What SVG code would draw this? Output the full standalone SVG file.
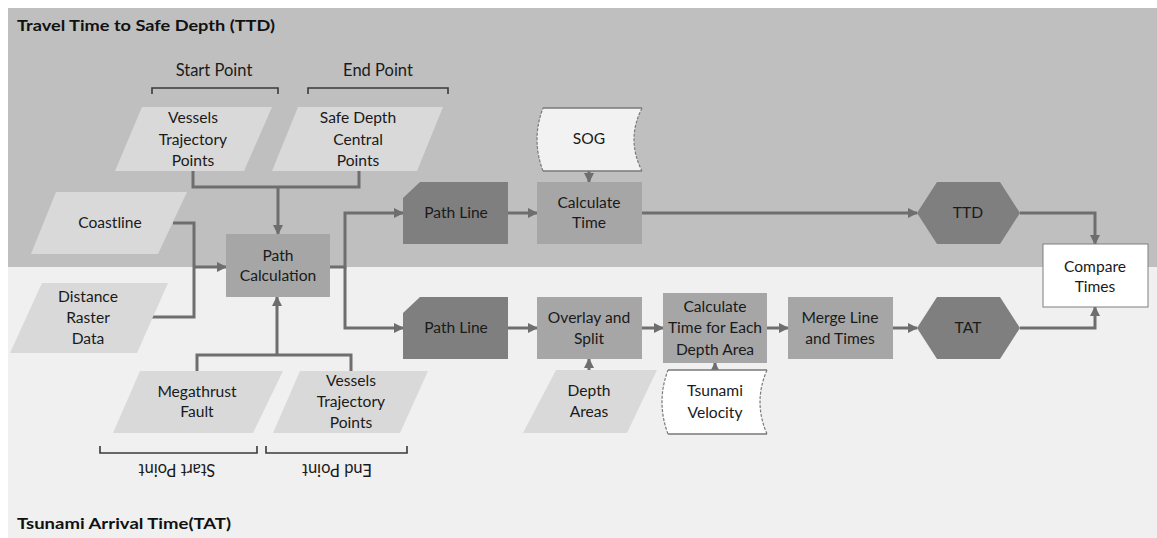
<svg xmlns="http://www.w3.org/2000/svg" width="1157" height="538" viewBox="0 0 1157 538">
  <defs>
    <style>
      .txt { font-family: Lato, "Liberation Sans", sans-serif; font-size: 15.6px; fill: #1a1a1a; text-anchor: middle; }
      .lbl { font-family: Lato, "Liberation Sans", sans-serif; font-size: 16.5px; fill: #1a1a1a; text-anchor: middle; }
      .title { font-family: Lato, "Liberation Sans", sans-serif; font-size: 16px; font-weight: bold; fill: #111; }
      .data { fill: #d9d9d9; }
      .proc { fill: #a6a6a6; }
      .dark { fill: #7f7f7f; }
      .conn { fill: none; stroke: #6e6e6e; stroke-width: 3; }
      .bracket { fill: none; stroke: #3a3a3a; stroke-width: 1.6; }
      .store-edge { fill: none; stroke: #7a7a7a; stroke-width: 1.4; }
      .store-side { fill: none; stroke: #7a7a7a; stroke-width: 1.2; stroke-dasharray: 3 1.5; }
    </style>
    <marker id="ah" viewBox="0 0 10 10" refX="9" refY="5" markerWidth="10" markerHeight="10" markerUnits="userSpaceOnUse" orient="auto">
      <path d="M0,0 L10,5 L0,10 z" fill="#6e6e6e"/>
    </marker>
  </defs>

  <!-- swim lanes -->
  <rect x="8" y="8" width="1149" height="259" fill="#bfbfbf"/>
  <rect x="8" y="267" width="1149" height="271" fill="#f0f0f0"/>
  <text class="title" x="17" y="31" textLength="258" lengthAdjust="spacingAndGlyphs">Travel Time to Safe Depth (TTD)</text>
  <text class="title" x="17" y="529" textLength="214" lengthAdjust="spacingAndGlyphs">Tsunami Arrival Time(TAT)</text>

  <!-- point-role brackets -->
  <g id="brackets">
    <path class="bracket" d="M152,94 V88 H278 V94"/>
    <path class="bracket" d="M308,94 V88 H448 V94"/>
    <text class="lbl" x="214" y="76">Start Point</text>
    <text class="lbl" x="378" y="76">End Point</text>
    <path class="bracket" d="M100,446 V453 H257 V446"/>
    <path class="bracket" d="M266,446 V453 H407 V446"/>
    <text class="lbl" x="177" y="476" transform="rotate(180 177 470)">Start Point</text>
    <text class="lbl" x="337" y="476" transform="rotate(180 337 470)">End Point</text>
  </g>

  <!-- connectors -->
  <g id="connectors">
    <path class="conn" d="M193,171 V187 H359 V171"/>
    <path class="conn" d="M278,187 V234" marker-end="url(#ah)"/>
    <path class="conn" d="M173,223 H194 V317 H152"/>
    <path class="conn" d="M194,267 H226" marker-end="url(#ah)"/>
    <path class="conn" d="M197,371 V355 H351 V371"/>
    <path class="conn" d="M277,355 V297" marker-end="url(#ah)"/>
    <path class="conn" d="M330,267 H345 V213 H403" marker-end="url(#ah)"/>
    <path class="conn" d="M345,267 V328 H403" marker-end="url(#ah)"/>
    <path class="conn" d="M508,213 H537" marker-end="url(#ah)"/>
    <path class="conn" d="M589,171 V182" marker-end="url(#ah)"/>
    <path class="conn" d="M642,213 H917" marker-end="url(#ah)"/>
    <path class="conn" d="M1020,213 H1095 V244" marker-end="url(#ah)"/>
    <path class="conn" d="M508,328 H537" marker-end="url(#ah)"/>
    <path class="conn" d="M642,328 H663" marker-end="url(#ah)"/>
    <path class="conn" d="M767,328 H788" marker-end="url(#ah)"/>
    <path class="conn" d="M893,328 H917" marker-end="url(#ah)"/>
    <path class="conn" d="M1020,328 H1095 V307" marker-end="url(#ah)"/>
    <path class="conn" d="M589,370 V359" marker-end="url(#ah)"/>
    <path class="conn" d="M715,371 V363" marker-end="url(#ah)"/>
  </g>

  <!-- TTD lane nodes -->
  <g id="vessels-top">
    <polygon class="data" points="142,107 272,107 244,171 115,171"/>
    <text class="txt" x="193" y="123">Vessels</text>
    <text class="txt" x="193" y="145">Trajectory</text>
    <text class="txt" x="193" y="166">Points</text>
  </g>
  <g id="safe-depth">
    <polygon class="data" points="298,107 443,107 417,171 272,171"/>
    <text class="txt" x="358" y="123">Safe Depth</text>
    <text class="txt" x="358" y="145">Central</text>
    <text class="txt" x="358" y="166">Points</text>
  </g>
  <g id="coastline">
    <polygon class="data" points="56,192 187,192 158,254 31,254"/>
    <text class="txt" x="110" y="228">Coastline</text>
  </g>
  <g id="path-calculation">
    <rect class="proc" x="226" y="234" width="104" height="63"/>
    <text class="txt" x="278" y="261">Path</text>
    <text class="txt" x="278" y="281">Calculation</text>
  </g>
  <g id="path-line-ttd">
    <path class="dark" d="M420,182 H508 V244 H403 V198 Z"/>
    <text class="txt" x="456" y="218">Path Line</text>
  </g>
  <g id="sog">
    <path d="M543,108 H642 Q626,139.5 642,171 H543 Q531,139.5 543,108 Z" fill="#f2f2f2"/>
    <path class="store-edge" d="M543,108 H642 M543,171 H642"/>
    <path class="store-side" d="M642,108 Q626,139.5 642,171 M543,171 Q531,139.5 543,108"/>
    <text class="txt" x="589" y="144">SOG</text>
  </g>
  <g id="calculate-time">
    <rect class="proc" x="537" y="182" width="105" height="62"/>
    <text class="txt" x="589" y="208">Calculate</text>
    <text class="txt" x="589" y="228">Time</text>
  </g>
  <g id="ttd">
    <polygon class="dark" points="917,213 937,182 1000,182 1020,213 1000,244 937,244"/>
    <text class="txt" x="968" y="218">TTD</text>
  </g>
  <g id="compare-times">
    <rect x="1043" y="244" width="105" height="63" fill="#ffffff" stroke="#7f7f7f" stroke-width="1"/>
    <text class="txt" x="1095" y="272">Compare</text>
    <text class="txt" x="1095" y="292">Times</text>
  </g>

  <!-- TAT lane nodes -->
  <g id="distance-raster">
    <polygon class="data" points="42,283 168,283 137,353 10,353"/>
    <text class="txt" x="88" y="302">Distance</text>
    <text class="txt" x="88" y="323">Raster</text>
    <text class="txt" x="88" y="344">Data</text>
  </g>
  <g id="megathrust">
    <polygon class="data" points="140,371 283,371 253,433 113,433"/>
    <text class="txt" x="197" y="397">Megathrust</text>
    <text class="txt" x="197" y="417">Fault</text>
  </g>
  <g id="vessels-bottom">
    <polygon class="data" points="300,371 428,371 400,433 273,433"/>
    <text class="txt" x="351" y="386">Vessels</text>
    <text class="txt" x="351" y="407">Trajectory</text>
    <text class="txt" x="351" y="428">Points</text>
  </g>
  <g id="path-line-tat">
    <path class="dark" d="M420,297 H508 V359 H403 V313 Z"/>
    <text class="txt" x="456" y="333">Path Line</text>
  </g>
  <g id="overlay-split">
    <rect class="proc" x="537" y="297" width="105" height="62"/>
    <text class="txt" x="589" y="323">Overlay and</text>
    <text class="txt" x="589" y="344">Split</text>
  </g>
  <g id="depth-areas">
    <polygon class="data" points="556,370 657,370 627,433 523,433"/>
    <text class="txt" x="589" y="396">Depth</text>
    <text class="txt" x="589" y="417">Areas</text>
  </g>
  <g id="calc-each-depth">
    <rect class="proc" x="663" y="293" width="104" height="70"/>
    <text class="txt" x="715" y="312">Calculate</text>
    <text class="txt" x="715" y="333">Time for Each</text>
    <text class="txt" x="715" y="355">Depth Area</text>
  </g>
  <g id="tsunami-velocity">
    <path d="M668,370 H767 Q753,402 767,434 H668 Q656,402 668,370 Z" fill="#ffffff"/>
    <path class="store-edge" d="M668,370 H767 M668,434 H767"/>
    <path class="store-side" d="M767,370 Q753,402 767,434 M668,434 Q656,402 668,370"/>
    <text class="txt" x="715" y="396">Tsunami</text>
    <text class="txt" x="715" y="418">Velocity</text>
  </g>
  <g id="merge-line">
    <rect class="proc" x="788" y="297" width="105" height="62"/>
    <text class="txt" x="840" y="323">Merge Line</text>
    <text class="txt" x="840" y="344">and Times</text>
  </g>
  <g id="tat">
    <polygon class="dark" points="917,328 937,297 1000,297 1020,328 1000,359 937,359"/>
    <text class="txt" x="968" y="333">TAT</text>
  </g>
</svg>
